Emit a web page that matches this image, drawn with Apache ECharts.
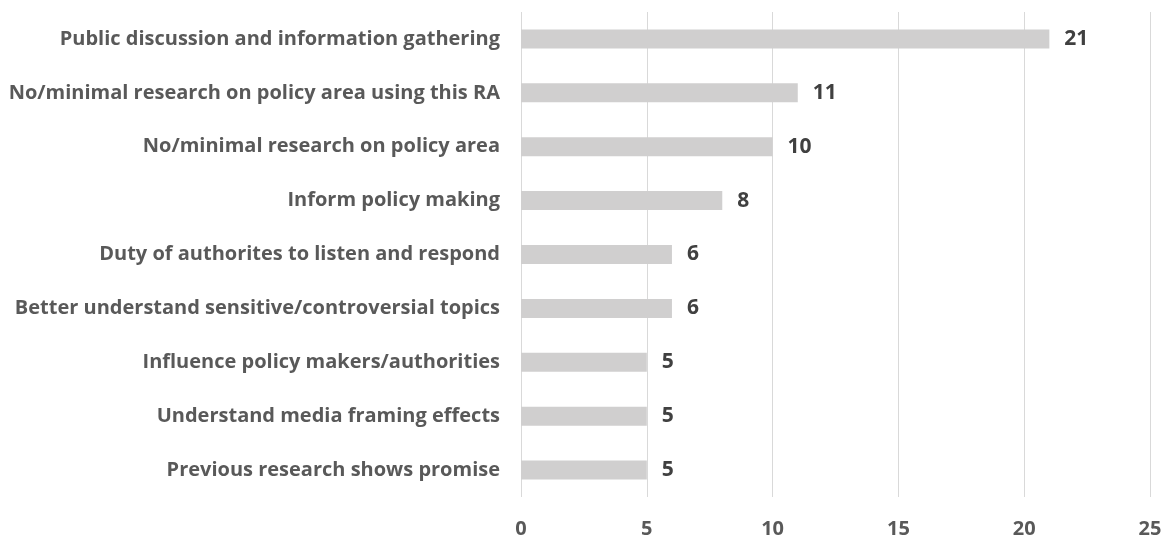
<!DOCTYPE html>
<html>
<head>
<meta charset="utf-8">
<script src="https://cdn.jsdelivr.net/npm/echarts@6/dist/echarts.min.js"></script>
<style>
  html, body { margin: 0; padding: 0; background: #ffffff; }
  #chart { width: 1167px; height: 540px; }
</style>
</head>
<body>
<div id="chart"></div>
<script>
// Reasons given, listed top to bottom
const categories = [
  'Public discussion and information gathering',
  'No/minimal research on policy area using this RA',
  'No/minimal research on policy area',
  'Inform policy making',
  'Duty of authorites to listen and respond',
  'Better understand sensitive/controversial topics',
  'Influence policy makers/authorities',
  'Understand media framing effects',
  'Previous research shows promise'
];
const counts = [21, 11, 10, 8, 6, 6, 5, 5, 5];
const xTicks = [0, 5, 10, 15, 20, 25];

const chart = echarts.init(document.getElementById('chart'));
chart.setOption({
  animation: false,
  grid: { left: 521, right: 17, top: 12, bottom: 43, containLabel: false },
  xAxis: {
    type: 'value',
    min: xTicks[0],
    max: xTicks[xTicks.length - 1],
    interval: xTicks[1] - xTicks[0],
    axisLine: { show: false },
    axisTick: { show: false },
    splitLine: { show: true, lineStyle: { color: '#d9d9d9', width: 1 } },
    axisLabel: {
      margin: 22,
      color: '#595959',
      fontFamily: 'Open Sans',
      fontWeight: 700,
      fontSize: 20
    }
  },
  yAxis: {
    type: 'category',
    inverse: true,
    data: categories,
    axisLine: { show: false },
    axisTick: { show: false },
    axisLabel: {
      margin: 21,
      color: '#595959',
      fontFamily: 'Open Sans',
      fontWeight: 'bold',
      fontSize: 20
    }
  },
  series: [{
    type: 'bar',
    data: counts,
    barWidth: 19,
    itemStyle: { color: '#d0cfcf' },
    label: {
      show: true,
      position: 'right',
      distance: 15,
      color: '#404040',
      fontFamily: 'Open Sans',
      fontWeight: 700,
      fontSize: 21
    }
  }]
});
</script>
</body>
</html>
